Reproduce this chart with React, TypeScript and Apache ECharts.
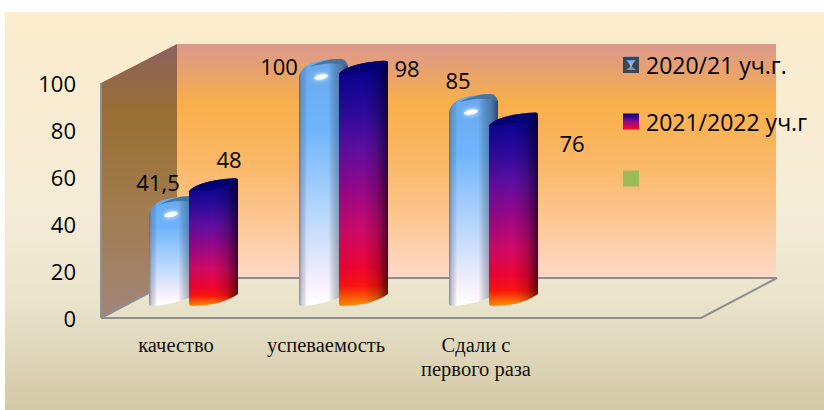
import React, { useEffect, useRef } from "react";
import * as echarts from "echarts";

const categories = ["качество", "успеваемость", "Сдали с\nпервого раза", ""];
const seriesNames = ["2020/21 уч.г.", "2021/2022 уч.г", " "];
const values2021 = [41.5, 100, 85];
const values2022 = [48, 98, 76];
const yTicks = { min: 0, max: 100, interval: 20 };

// layout-only constants (px offsets from the bar's nominal top-left corner)
const labelOffsets2021 = [[-18, -25], [-47, -4], [-18, -25]];
const labelOffsets2022 = [[53, -33], [81, -7], [96, 17]];
const DEPTH_Y = 13;
const LABEL_FONT = "22px 'Open Sans', Lato, sans-serif";

const linear = (x2: number, y2: number, stops: [number, string][]) => ({
  type: "linear", x: 0, y: 0, x2, y2, global: false,
  colorStops: stops.map(([offset, color]) => ({ offset, color })),
});

const blueFill = linear(0, 1, [
  [0, "#6aa8ec"], [0.28, "#6fb4fb"], [0.65, "#bdd9fb"], [0.9, "#f6effc"], [1, "#ffffff"],
]);
const blueShade = linear(1, 0, [
  [0, "rgba(60,60,85,0.6)"], [0.06, "rgba(90,100,130,0.3)"], [0.16, "rgba(0,0,0,0)"],
  [0.6, "rgba(0,0,0,0)"], [0.85, "rgba(40,55,80,0.4)"], [1, "rgba(30,45,70,0.8)"],
]);
const redFill = linear(0, 1, [
  [0, "#00008c"], [0.2, "#2a0a9c"], [0.36, "#5e0ea2"], [0.52, "#94088a"],
  [0.7, "#d00a68"], [0.85, "#f00530"], [0.92, "#ff1410"], [1, "#ff9400"],
]);
const redShade = linear(1, 0, [
  [0, "rgba(0,0,0,0.05)"], [0.5, "rgba(0,0,0,0)"], [0.78, "rgba(0,0,0,0.18)"], [1, "rgba(0,0,0,0.62)"],
]);

const fmt = (v: number) => String(v).replace(".", ",");

const renderBlue = (params: any, api: any) => {
  const i = params.dataIndex;
  const top = api.coord([api.value(0), api.value(1)]);
  const base = api.coord([api.value(0), 0]);
  const c = top[0];
  const L = c - 27, R = c + 22;
  const T = top[1] - DEPTH_Y, B = base[1] - DEPTH_Y;
  const body = `M${L} ${T + 10} C${L} ${T - 2} ${L + 10} ${T - 8} ${L + 26} ${T - 10} C${L + 38} ${T - 12} ${R - 3} ${T - 12} ${R} ${T - 4} L${R} ${B - 12} C${R - 14} ${B - 3} ${L + 12} ${B + 1} ${L + 3} ${B + 1} C${L + 1} ${B + 1} ${L} ${B} ${L} ${B - 2} Z`;
  const cap = `M${L + 11} ${T - 3} C${L + 18} ${T - 8} ${L + 30} ${T - 11} ${L + 40} ${T - 11} C${R - 4} ${T - 12} ${R - 1} ${T - 8} ${R} ${T - 4} C${L + 38} ${T - 8} ${L + 22} ${T - 7} ${L + 11} ${T - 3} Z`;
  const [lx, ly] = labelOffsets2021[i];
  return {
    type: "group",
    children: [
      { type: "path", shape: { pathData: body }, style: { fill: blueFill } },
      { type: "path", shape: { pathData: body }, style: { fill: blueShade } },
      { type: "path", shape: { pathData: cap }, style: { fill: "#46729c", opacity: 0.95 } },
      { type: "ellipse", shape: { cx: c - 5, cy: T + 7, rx: 7, ry: 2.6 }, rotation: 0.2, originX: c - 5, originY: T + 7,
        style: { fill: "#ffffff", opacity: 0.95, shadowBlur: 5, shadowColor: "#ffffff" } },
      { type: "text", style: { text: fmt(api.value(1)), x: c + lx, y: T + ly, font: LABEL_FONT, fill: "#000",
        textAlign: "center", textVerticalAlign: "middle" } },
    ],
  };
};

const renderRed = (params: any, api: any) => {
  const i = params.dataIndex;
  const top = api.coord([api.value(0), api.value(1)]);
  const base = api.coord([api.value(0), 0]);
  const c = top[0];
  const L = c + 13, R = c + 62;
  const T = top[1] - DEPTH_Y - 1, B = base[1] - DEPTH_Y;
  const body = `M${L} ${T} C${L + 6} ${T - 8} ${L + 30} ${T - 13} ${R - 2} ${T - 13} L${R} ${T - 12} L${R} ${B - 11} C${R - 10} ${B - 4} ${L + 24} ${B + 1} ${L + 3} ${B + 1} C${L + 1} ${B + 1} ${L} ${B} ${L} ${B - 2} Z`;
  const cap = `M${L} ${T} C${L + 6} ${T - 8} ${L + 30} ${T - 13} ${R} ${T - 12} C${R - 6} ${T - 5} ${L + 20} ${T + 1} ${L} ${T} Z`;
  const [lx, ly] = labelOffsets2022[i];
  return {
    type: "group",
    children: [
      { type: "path", shape: { pathData: body }, style: { fill: redFill } },
      { type: "path", shape: { pathData: body }, style: { fill: redShade } },
      { type: "path", shape: { pathData: cap }, style: { fill: "#00006e", opacity: 0.85 } },
      { type: "text", style: { text: fmt(api.value(1)), x: c + lx, y: T + 1 + ly, font: LABEL_FONT, fill: "#000",
        textAlign: "center", textVerticalAlign: "middle" } },
    ],
  };
};

const bgFill = linear(0, 1, [[0, "#fdeccd"], [0.5, "#f4ecd6"], [0.72, "#eae4cd"], [1, "#d3c8a6"]]);
const backWallFill = linear(0, 1, [
  [0, "#dc998d"], [0.12, "#e8a26c"], [0.25, "#f9af4a"], [0.5, "#fab765"], [0.75, "#fcc793"], [1, "#fed9c9"],
]);
const sideWallFill = linear(0, 1, [[0, "#8c6160"], [0.25, "#9a6e34"], [0.6, "#a17c4e"], [1, "#a2857a"]]);

export default function App() {
  const ref = useRef<HTMLDivElement>(null);
  useEffect(() => {
    const chart = echarts.init(ref.current!, undefined, { renderer: "svg" });
    chart.setOption({
      animation: false,
      backgroundColor: "#ffffff",
      grid: { left: 101, top: 83, width: 600, height: 235, containLabel: false },
      xAxis: {
        type: "category", data: categories, z: 3,
        axisLine: { show: false }, axisTick: { show: false },
        axisLabel: { margin: 15, interval: 0, color: "#111", fontFamily: "'Liberation Serif', serif", fontSize: 20.5, lineHeight: 24 },
      },
      yAxis: {
        type: "value", min: yTicks.min, max: yTicks.max, interval: yTicks.interval, z: 3,
        axisLine: { show: false }, axisTick: { show: false }, splitLine: { show: false },
        axisLabel: { margin: 25, color: "#000", fontFamily: "'Open Sans', Lato, sans-serif", fontSize: 22, padding: [4, 0, 0, 0] },
      },
      legend: {
        orient: "vertical", left: 623, top: 53, itemWidth: 16, itemHeight: 16, itemGap: 34, padding: 0,
        icon: "rect", selectedMode: false,
        textStyle: { fontFamily: "'Open Sans', Lato, sans-serif", fontSize: 23, color: "#000", padding: [0, 0, 0, 2] },
        data: [
          { name: seriesNames[0], itemStyle: { color: "#5a90cc" } },
          { name: seriesNames[1], itemStyle: { color: linear(0, 1, [[0, "#00008c"], [0.5, "#90088a"], [1, "#ff0a20"]]) } },
          { name: seriesNames[2], itemStyle: { color: "#9bbb59" } },
        ],
      },
      graphic: [
        { type: "rect", z: -10, shape: { x: 5, y: 12, width: 819, height: 398 }, style: { fill: bgFill } },
        { type: "polygon", z: -9, shape: { points: [[101, 83], [177, 44], [177, 278], [101, 318]] }, style: { fill: sideWallFill } },
        { type: "rect", z: -9, shape: { x: 177, y: 44, width: 599, height: 234 }, style: { fill: backWallFill } },
        { type: "polygon", z: -8, shape: { points: [[101, 318], [701, 318], [777, 278], [177, 278]] },
          style: { fill: "none", stroke: "#8e8e8e", lineWidth: 2 } },
        { type: "line", z: -8, shape: { x1: 101, y1: 83, x2: 101, y2: 318 }, style: { stroke: "#8f9096", lineWidth: 2 } },
        // bevel of the first legend swatch
        { type: "rect", z: 20, shape: { x: 623, y: 57, width: 16, height: 16 }, style: { fill: "#3c4650" } },
        { type: "polygon", z: 21, shape: { points: [[626, 60], [636, 60], [631, 66]] }, style: { fill: "#5c9ae0" } },
        { type: "polygon", z: 21, shape: { points: [[626, 70], [636, 70], [631, 66]] }, style: { fill: "#7f95a8" } },
        { type: "polygon", z: 21, shape: { points: [[628, 61], [634, 61], [631, 68]] }, style: { fill: "#7db6f0" } },
      ],
      series: [
        { type: "custom", name: seriesNames[0], z: 5, clip: false, itemStyle: { color: "#5a90cc" },
          encode: { x: 0, y: 1 }, data: values2021.map((v, i) => [i, v]), renderItem: renderBlue },
        { type: "custom", name: seriesNames[1], z: 6, clip: false, itemStyle: { color: "#90088a" },
          encode: { x: 0, y: 1 }, data: values2022.map((v, i) => [i, v]), renderItem: renderRed },
        { type: "custom", name: seriesNames[2], z: 6, itemStyle: { color: "#9bbb59" }, data: [], renderItem: () => null },
      ],
    });
    return () => chart.dispose();
  }, []);
  return <div ref={ref} style={{ position: "fixed", left: 0, top: 0, width: 824, height: 410 }} />;
}
